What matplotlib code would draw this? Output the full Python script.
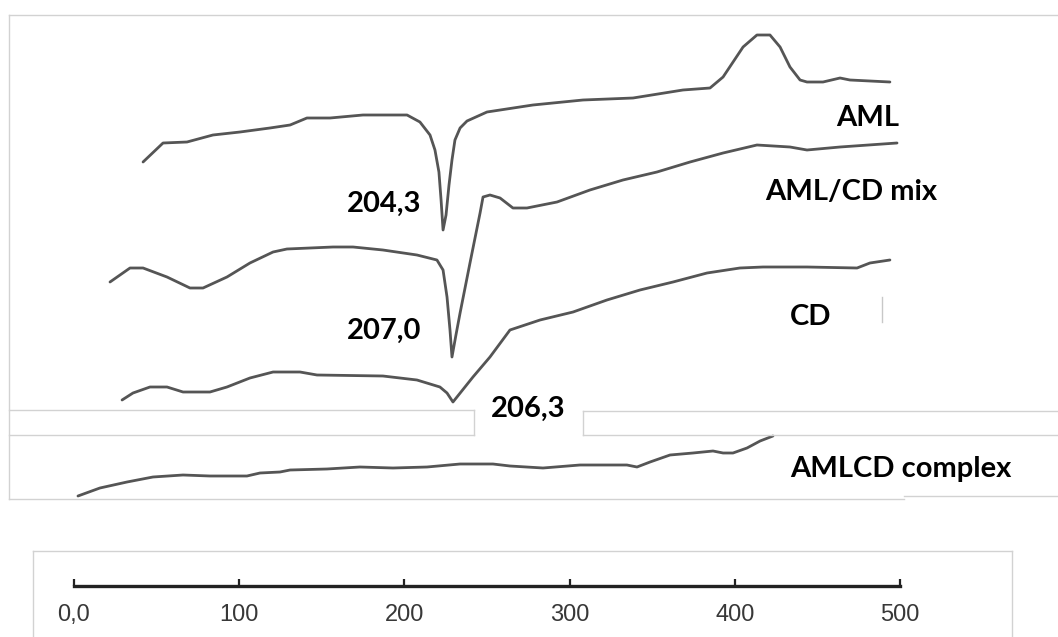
import matplotlib
matplotlib.use("Agg")
import matplotlib.pyplot as plt
from matplotlib.lines import Line2D

# ---------------- data (temperature in deg C, signal in arbitrary units) -------------
aml_T = [41.8, 53.9, 68.4, 84.1, 100.5, 118.6, 130.8, 141.0, 155.0, 174.9,
         201.6, 209.4, 215.5, 218.5, 220.9, 222.2, 223.4, 225.2, 227.0, 228.8,
         230.6, 233.7, 237.9, 250.0, 277.8, 308.1, 338.4, 368.6, 385.0, 392.9,
         405.0, 413.4, 421.3, 427.4, 433.4, 439.5, 443.7, 453.4, 463.7, 469.7, 493.9]
aml_S = [475, 494, 495, 502, 505, 509, 512, 519, 519, 522,
         522, 515, 502, 487, 465, 437, 407, 422, 452, 477,
         497, 509, 516, 525, 532, 537, 539, 547, 549, 560,
         590, 602, 602, 590, 570, 557, 555, 555, 559, 557, 555]

mix_T = [21.8, 33.9, 41.8, 56.3, 70.2, 78.1, 92.6, 106.5, 120.5, 128.9,
         156.8, 168.9, 187.0, 207.6, 219.7, 223.4, 225.8, 227.6, 228.8, 231.2,
         233.7, 239.7, 245.8, 247.6, 251.8, 257.9, 265.7, 274.2, 292.4, 312.3,
         332.3, 352.9, 372.9, 392.9, 413.4, 433.4, 443.7, 463.7, 498.2]
mix_S = [355, 369, 369, 360, 349, 349, 360, 374, 385, 388,
         390, 390, 387, 382, 377, 367, 340, 307, 280, 302,
         324, 374, 424, 440, 442, 439, 429, 429, 435, 447,
         457, 465, 475, 484, 492, 490, 487, 490, 494]

cd_T = [29.1, 35.7, 46.0, 56.3, 66.0, 82.3, 92.6, 106.5, 120.5, 136.8,
        147.1, 187.0, 207.6, 221.5, 225.8, 229.4, 241.5, 251.8, 263.9, 282.1,
        302.1, 322.6, 342.6, 362.6, 383.2, 403.1, 417.1, 443.7, 474.0, 481.8, 493.9]
cd_S = [237, 244, 250, 250, 245, 245, 250, 259, 265, 265,
        262, 261, 257, 250, 244, 235, 260, 280, 307, 317,
        325, 337, 347, 355, 364, 369, 370, 370, 369, 374, 377]

cx_T = [2.4, 15.7, 32.1, 47.8, 66.0, 82.3, 104.7, 112.6, 124.7, 130.8,
        153.1, 173.1, 193.1, 213.7, 233.7, 253.6, 263.9, 283.9, 306.3, 314.2,
        334.7, 340.8, 348.7, 360.8, 374.7, 386.8, 392.9, 398.9, 407.4, 415.3, 423.1]
cx_S = [141, 149, 155, 160, 162, 161, 161, 164, 165, 167,
        168, 170, 169, 170, 173, 173, 171, 169, 172, 172,
        172, 170, 175, 182, 184, 186, 184, 184, 189, 196, 201]

curve_labels = ["AML", "AML/CD mix", "CD", "AMLCD complex"]
peak_labels = ["204,3", "207,0", "206,3"]
scale_ticks = [0, 100, 200, 300, 400, 500]
scale_ticklabels = ["0,0", "100", "200", "300", "400", "500"]

# ---------------- layout ----------------
W, H = 1058, 637
fig = plt.figure(figsize=(W / 100, H / 100), dpi=100)
fig.patch.set_facecolor("white")

X0, PXDEG = 74.0, 1.652  # pixel of 0 deg and pixels per degree


def fx(x):
    return x / W


def fy(y):
    return 1 - y / H


ax = fig.add_axes([0, 0, 1, 1])
ax.set_xlim(-X0 / PXDEG, (W - X0) / PXDEG)
ax.set_ylim(0, H)
ax.axis("off")

line_kw = dict(color="#555555", lw=2.0, solid_joinstyle="round", solid_capstyle="round")
for T, S in [(aml_T, aml_S), (mix_T, mix_S), (cd_T, cd_S), (cx_T, cx_S)]:
    ax.plot(T, S, **line_kw)

# ---------------- grey frames ----------------
fc = "#d2d2d2"
flw = 1.0


def seg(x1, y1, x2, y2, color=fc, lw=flw):
    fig.add_artist(Line2D([fx(x1), fx(x2)], [fy(y1), fy(y2)], transform=fig.transFigure,
                          color=color, lw=lw))


seg(9, 15, W, 15)
seg(9, 15, 9, 499)
seg(9, 410, 474, 410)
seg(474, 410, 474, 435)
seg(9, 435, 474, 435)
seg(583, 411, W, 411)
seg(583, 411, 583, 435)
seg(583, 435, W, 435)
seg(9, 499, 904, 499)
seg(904, 496, W, 496)
seg(882, 297, 882, 322, color="#c8c8c8", lw=1.0)
# scale box
seg(33, 551, 1012, 551)
seg(33, 551, 33, H)
seg(1012, 551, 1012, H)

# ---------------- labels ----------------
tkw = dict(fontfamily=["Lato", "DejaVu Sans"], fontweight="bold", fontsize=21,
           color="black", ha="left", va="baseline")
fig.text(fx(836), fy(126), curve_labels[0], **tkw)
fig.text(fx(765), fy(200), curve_labels[1], **tkw)
fig.text(fx(790), fy(325), curve_labels[2], **tkw)
fig.text(fx(790), fy(477), curve_labels[3], **tkw)
fig.text(fx(347), fy(212), peak_labels[0], **tkw)
fig.text(fx(347), fy(339), peak_labels[1], **tkw)
fig.text(fx(491), fy(417), peak_labels[2], **tkw)

# ---------------- temperature scale ----------------
axy = 586
ax2 = fig.add_axes([fx(X0), fy(axy), (500 * PXDEG) / W, 20 / H])
ax2.set_xlim(0, 500)
ax2.set_ylim(0, 1)
for sp in ["top", "left", "right"]:
    ax2.spines[sp].set_visible(False)
ax2.spines["bottom"].set_linewidth(2.4)
ax2.spines["bottom"].set_color("#222222")
ax2.patch.set_alpha(0)
ax2.set_yticks([])
ax2.set_xticks(scale_ticks)
ax2.set_xticklabels(scale_ticklabels)
ax2.set_xticks([scale_ticks[0], scale_ticks[-1]], minor=True)
ax2.tick_params(axis="x", which="major", direction="in", length=5, width=1.6,
                color="#222222", pad=13, labelsize=17, labelcolor="#383838")
ax2.tick_params(axis="x", which="minor", direction="inout", length=9, width=1.6,
                color="#222222")
for lab in ax2.get_xticklabels():
    lab.set_fontfamily(["Liberation Sans", "DejaVu Sans"])

fig.savefig("out.png", dpi=100, facecolor="white")
